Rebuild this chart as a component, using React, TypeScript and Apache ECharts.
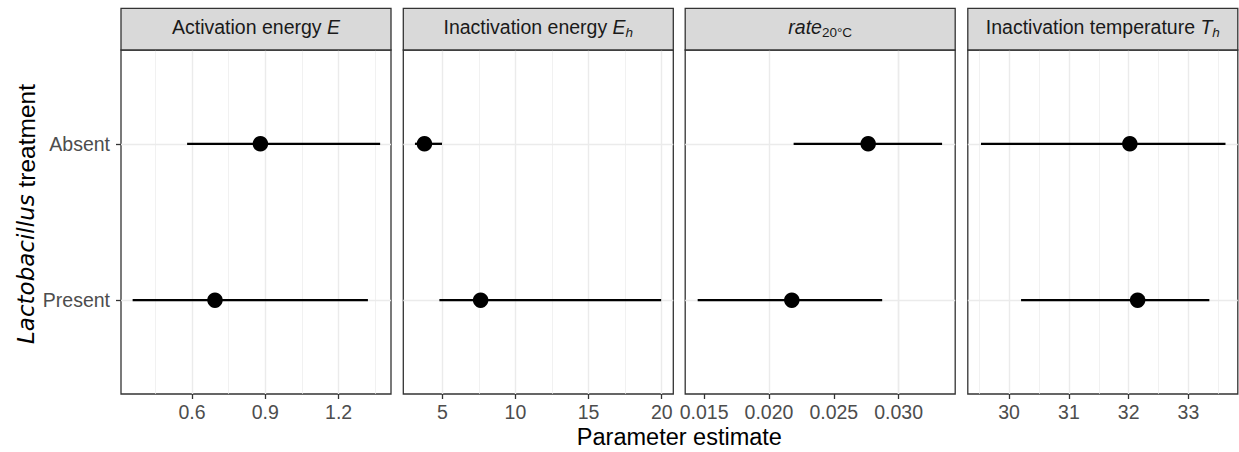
import React, { useEffect, useRef } from "react";
import * as echarts from "echarts";

// ---------- data ----------
// y positions: Present = 1, Absent = 2
const categories = ["Present", "Absent"];

const xTitle = "Parameter estimate";

// axis limits per panel (E, Eh, rate20, Th)
const xMin = [0.3094, 2.334, 0.013538, 29.309];
const xMax = [1.4145, 20.79, 0.034362, 33.826];

// tick labels per panel
const tickLabels = [
  ["0.6", "0.9", "1.2"],
  ["5", "10", "15", "20"],
  ["0.015", "0.020", "0.025", "0.030"],
  ["30", "31", "32", "33"],
];
const minorBreaks = [
  [0.45, 0.75, 1.05, 1.35],
  [7.5, 12.5, 17.5],
  [0.0175, 0.0225, 0.0275, 0.0325],
  [29.5, 30.5, 31.5, 32.5, 33.5],
];

// estimates and intervals, ordered [Present, Absent]
const estE = [0.694, 0.88];
const loE = [0.357, 0.58];
const hiE = [1.32, 1.37];

const estEh = [7.62, 3.78];
const loEh = [4.8, 3.13];
const hiEh = [19.96, 4.98];

const estRate = [0.02176, 0.02765];
const loRate = [0.0145, 0.0219];
const hiRate = [0.02873, 0.03335];

const estTh = [32.15, 32.02];
const loTh = [30.2, 29.53];
const hiTh = [33.35, 33.62];

const estimates = [estE, estEh, estRate, estTh];
const lows = [loE, loEh, loRate, loTh];
const highs = [hiE, hiEh, hiRate, hiTh];

// ---------- styling ----------
const FONT = "'Liberation Sans', Arial, Helvetica, sans-serif";
const FONT_WIDE = "'DejaVu Sans', 'Liberation Sans', sans-serif";
const panelLefts = [121, 403.3, 685.2, 967.8];
const panelWidth = 270;
const panelTop = 50;
const panelHeight = 344;
const stripTop = 8.3;
const stripHeight = panelTop - stripTop;
const TICK_FS = 19.5;

const stripRich = {
  n: { fontSize: 19.5, fontFamily: FONT, fill: "#1A1A1A", lineHeight: 25 },
  i: { fontSize: 19.5, fontFamily: FONT, fontStyle: "italic", fill: "#1A1A1A", lineHeight: 25 },
  si: { fontSize: 13.5, fontFamily: FONT, fontStyle: "italic", fill: "#1A1A1A", lineHeight: 13.5, verticalAlign: "bottom" },
  s: { fontSize: 13.5, fontFamily: FONT, fill: "#1A1A1A", lineHeight: 13.5, verticalAlign: "bottom" },
};
const stripTexts = [
  "{n|Activation energy }{i|E}",
  "{n|Inactivation energy }{i|E}{si|h}",
  "{i|rate}{s|20°C}",
  "{n|Inactivation temperature }{i|T}{si|h}",
];

export default function App() {
  const ref = useRef<HTMLDivElement>(null);

  useEffect(() => {
    if (!ref.current) return;
    const chart = echarts.init(ref.current, undefined, { renderer: "svg" });

    const grid: any[] = [];
    const xAxis: any[] = [];
    const yAxis: any[] = [];
    const series: any[] = [];
    const graphic: any[] = [];

    for (let i = 0; i < 4; i++) {
      const tickVals = tickLabels[i].map(Number);
      grid.push({
        left: panelLefts[i],
        top: panelTop,
        width: panelWidth,
        height: panelHeight,
        show: true,
        backgroundColor: "#FFFFFF",
        borderColor: "#333333",
        borderWidth: 1.3,
      });
      xAxis.push({
        type: "value",
        gridIndex: i,
        min: xMin[i],
        max: xMax[i],
        axisLine: { show: false },
        splitLine: { show: false },
        axisTick: {
          show: true,
          customValues: tickVals,
          length: 5,
          lineStyle: { color: "#333333", width: 1.3 },
        },
        axisLabel: {
          customValues: tickVals,
          margin: 8,
          color: "#4D4D4D",
          fontSize: TICK_FS,
          fontFamily: FONT,
          formatter: (v: number) => {
            let best = 0;
            for (let k = 1; k < tickVals.length; k++) {
              if (Math.abs(tickVals[k] - v) < Math.abs(tickVals[best] - v)) best = k;
            }
            return tickLabels[i][best];
          },
        },
      });
      yAxis.push({
        type: "value",
        gridIndex: i,
        min: 0.4,
        max: 2.6,
        axisLine: { show: false },
        splitLine: { show: false },
        axisTick: {
          show: i === 0,
          customValues: [1, 2],
          length: 5,
          lineStyle: { color: "#333333", width: 1.3 },
        },
        axisLabel: {
          show: i === 0,
          customValues: [1, 2],
          margin: 11,
          color: "#4D4D4D",
          fontSize: TICK_FS,
          fontFamily: FONT,
          formatter: (v: number) => categories[Math.round(v) - 1] ?? "",
        },
      });

      series.push({
        type: "custom",
        xAxisIndex: i,
        yAxisIndex: i,
        z: 3,
        silent: true,
        data: categories.map((_, k) => [lows[i][k], highs[i][k], k + 1]),
        encode: { x: [0, 1], y: 2 },
        renderItem: (params: any, api: any) => {
          const p1 = api.coord([api.value(0), api.value(2)]);
          const p2 = api.coord([api.value(1), api.value(2)]);
          return {
            type: "line",
            shape: { x1: p1[0], y1: p1[1], x2: p2[0], y2: p2[1] },
            style: { stroke: "#000000", lineWidth: 2.3 },
          };
        },
      });

      const gridLines: any[] = [];
      tickVals.forEach((v) =>
        gridLines.push({ xAxis: v, lineStyle: { color: "#EBEBEB", width: 1.4, type: "solid" } })
      );
      minorBreaks[i].forEach((v) =>
        gridLines.push({ xAxis: v, lineStyle: { color: "#EBEBEB", width: 0.7, type: "solid" } })
      );
      categories.forEach((_, k) =>
        gridLines.push({ yAxis: k + 1, lineStyle: { color: "#EBEBEB", width: 1.4, type: "solid" } })
      );

      series.push({
        type: "scatter",
        xAxisIndex: i,
        yAxisIndex: i,
        z: 4,
        silent: true,
        symbol: "circle",
        symbolSize: 15.5,
        itemStyle: { color: "#000000", opacity: 1 },
        data: categories.map((_, k) => [estimates[i][k], k + 1]),
        markLine: {
          z: 1,
          silent: true,
          symbol: "none",
          label: { show: false },
          emphasis: { disabled: true },
          animation: false,
          lineStyle: { type: "solid" },
          data: gridLines,
        },
      });

      graphic.push({
        type: "rect",
        shape: { x: panelLefts[i], y: stripTop, width: panelWidth, height: stripHeight },
        style: { fill: "#D9D9D9", stroke: "#333333", lineWidth: 1.3 },
        z: 10,
      });
      graphic.push({
        type: "text",
        x: panelLefts[i] + panelWidth / 2,
        y: 27,
        z: 11,
        style: {
          text: stripTexts[i],
          rich: stripRich,
          align: "center",
          verticalAlign: "middle",
          fontFamily: FONT,
          fontSize: 19.5,
          fill: "#1A1A1A",
        },
      });
    }

    graphic.push({
      type: "text",
      x: (panelLefts[0] + panelLefts[3] + panelWidth) / 2,
      y: 437,
      style: {
        text: xTitle,
        align: "center",
        verticalAlign: "middle",
        fontFamily: FONT,
        fontSize: 23.5,
        fill: "#000000",
      },
    });
    graphic.push({
      type: "text",
      x: 26,
      y: 214,
      rotation: Math.PI / 2,
      style: {
        text: "{i|Lactobacillus}{n| treatment}",
        align: "center",
        verticalAlign: "middle",
        fontFamily: FONT,
        fontSize: 24,
        fill: "#000000",
        rich: {
          i: { fontSize: 23, fontFamily: FONT_WIDE, fontStyle: "italic", fill: "#000000", lineHeight: 28 },
          n: { fontSize: 24.5, fontFamily: FONT, fill: "#000000", lineHeight: 28 },
        },
      },
    });

    chart.setOption({
      animation: false,
      backgroundColor: "#FFFFFF",
      grid,
      xAxis,
      yAxis,
      series,
      graphic,
    });

    return () => chart.dispose();
  }, []);

  return (
    <div
      ref={ref}
      style={{ position: "fixed", left: 0, top: 0, width: 1239, height: 452 }}
    />
  );
}
